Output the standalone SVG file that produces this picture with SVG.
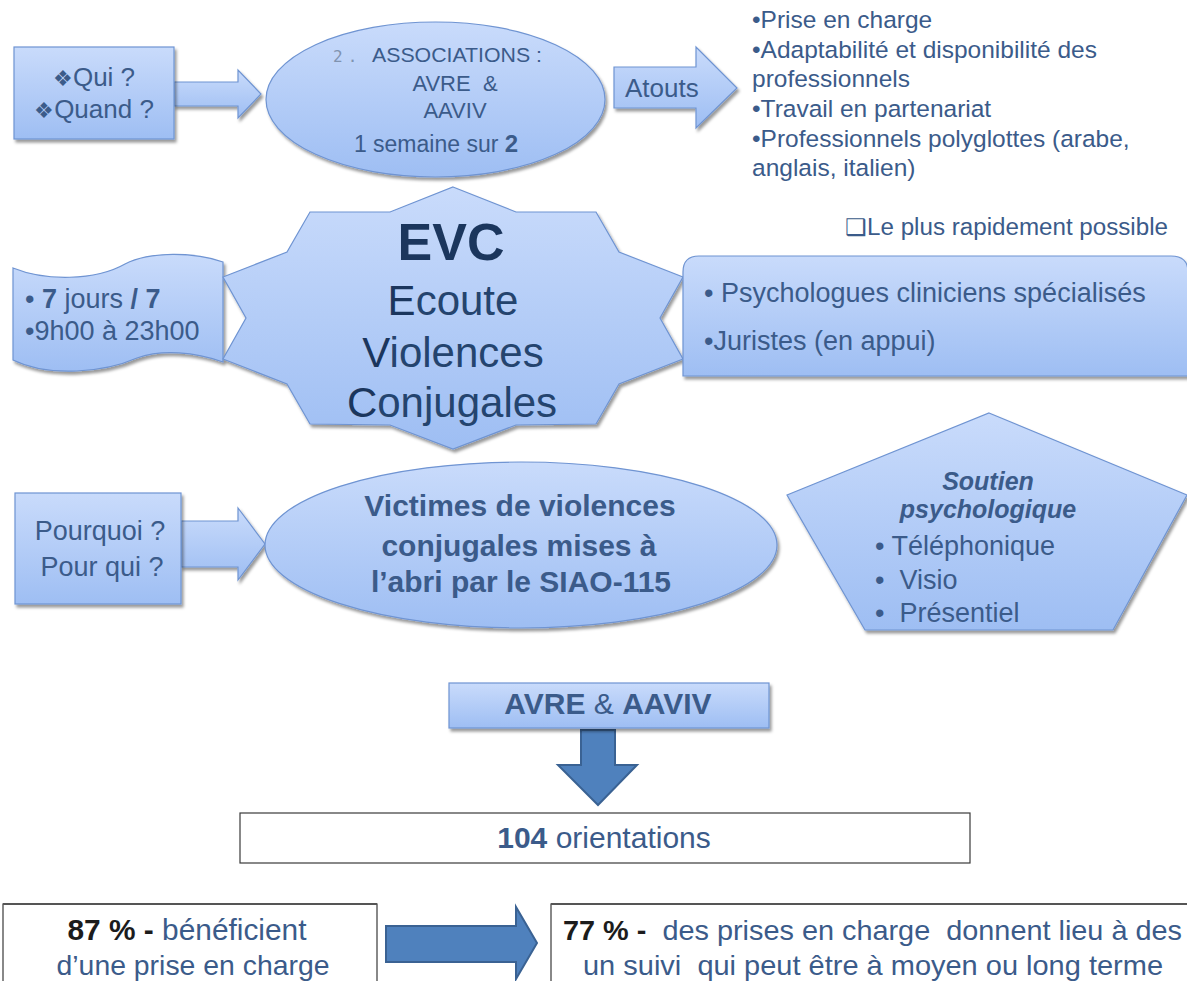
<svg xmlns="http://www.w3.org/2000/svg" width="1187" height="981" viewBox="0 0 1187 981">
<defs>
<linearGradient id="g" x1="0" y1="0" x2="0" y2="1">
<stop offset="0" stop-color="#c9dbfb"/>
<stop offset="1" stop-color="#9ebef3"/>
</linearGradient>
<filter id="sh" x="-10%" y="-10%" width="125%" height="130%">
<feDropShadow dx="2" dy="3" stdDeviation="1.5" flood-color="#000" flood-opacity="0.4"/>
</filter>
<style>
.s{fill:url(#g);stroke:#6f94d2;stroke-width:1.2;filter:url(#sh)}
.d{fill:#4f81bd;stroke:#3a6293;stroke-width:2}
.w{fill:#fff;stroke:#3a3a3a;stroke-width:1.2}
text{font-family:"Liberation Sans",Arial,sans-serif;fill:#3b5b8a}
.c{text-anchor:middle}
.b{font-weight:bold}
text.ev{fill:#24446e}
.ev tspan.n, text.n{fill:#1b365d}
.k{fill:#1c1c1c;font-weight:bold}
text.num{fill:#8093b0;font-family:"DejaVu Sans Mono",monospace;letter-spacing:5px}
</style>
</defs>

<g id="connectors">
<path class="s" d="M174,82 H238 V70 L261,94 L238,118 V106 H174 Z"/>
<path class="s" d="M614,67 H696 V47 L737,88 L696,128 V108 H614 Z"/>
<path class="s" d="M181,521 H238 V508 L265,544 L238,580 V567 H181 Z"/>
<path class="d" d="M581,730 H615 V765 H637 L598,805 L558,765 H581 Z"/>
<path class="d" d="M386,926 H516 V907 L537,943 L516,979 V962 H386 Z"/>
</g>

<g id="qui">
<rect class="s" x="14" y="47" width="160" height="92"/>
<text class="c" x="94" y="86" font-size="26"><tspan font-size="22">❖</tspan>Qui ?</text>
<text class="c" x="94" y="118" font-size="26"><tspan font-size="22">❖</tspan>Quand ?</text>
</g>

<g id="associations">
<ellipse class="s" cx="435.5" cy="99.5" rx="169.5" ry="77.5"/>
<text class="num" x="333" y="62" font-size="16">2.</text>
<text x="372" y="62" font-size="20.5" textLength="170" lengthAdjust="spacingAndGlyphs">ASSOCIATIONS :</text>
<text class="c" x="455" y="91" font-size="22" xml:space="preserve">AVRE  &amp;</text>
<text class="c" x="455" y="118" font-size="22">AAVIV</text>
<text class="c" x="436" y="152" font-size="23">1 semaine sur  <tspan class="b" font-size="24">2</tspan></text>
</g>

<g id="atouts">
<text x="625" y="97" font-size="26">Atouts</text>
</g>

<g id="atouts-list">
<text x="752" y="28" font-size="24.5">•Prise en charge</text>
<text x="752" y="58" font-size="24.5">•Adaptabilité et disponibilité des</text>
<text x="752" y="87" font-size="24.5">professionnels</text>
<text x="752" y="117" font-size="24.5">•Travail en partenariat</text>
<text x="752" y="147" font-size="24.5">•Professionnels polyglottes (arabe,</text>
<text x="752" y="176" font-size="24.5">anglais, italien)</text>
</g>

<g id="rapide">
<text x="845" y="235" font-size="23" textLength="323" lengthAdjust="spacingAndGlyphs">❑Le plus rapidement possible</text>
</g>

<g id="horaires">
<path class="s" d="M13,268 C45,281 95,281 125,264 C150,251 195,252 223,262 L223,362 C195,352 162,349 137,358 C105,372 50,378 13,360 Z"/>
<text x="25" y="308" font-size="27">• <tspan class="b">7</tspan> jours <tspan class="b">/ 7</tspan></text>
<text x="25" y="340" font-size="27">•9h00 à 23h00</text>
</g>

<g id="evc">
<path class="s" d="M453,187 L516,212 L596,212 L619,252 L683,277 L660,318 L683,359 L619,384 L596,424 L516,425 L453,449 L390,425 L310,424 L287,384 L223,359 L246,318 L223,277 L287,252 L310,212 L390,212 Z"/>
<text class="c b n" x="451" y="260" font-size="52">EVC</text>
<text class="c ev" x="453" y="315" font-size="42"><tspan class="n">E</tspan>coute</text>
<text class="c ev" x="453" y="367" font-size="42"><tspan class="n">V</tspan>iolences</text>
<text class="c ev" x="452" y="417" font-size="42"><tspan class="n">C</tspan>onjugales</text>
</g>

<g id="intervenants">
<path class="s" d="M683,376 V272 Q683,256 699,256 H1171 Q1188,256 1188,272 V376 Z"/>
<text x="704" y="302" font-size="27">• Psychologues cliniciens spécialisés</text>
<text x="704" y="350" font-size="27">•Juristes (en appui)</text>
</g>

<g id="pourquoi">
<rect class="s" x="15" y="493" width="166" height="111"/>
<text class="c" x="100" y="540" font-size="27">Pourquoi ?</text>
<text class="c" x="102" y="576" font-size="27">Pour qui ?</text>
</g>

<g id="victimes">
<ellipse class="s" cx="521" cy="545" rx="256" ry="83"/>
<text class="c b" x="520" y="516" font-size="30">Victimes de violences</text>
<text class="c b" x="519" y="556" font-size="30">conjugales mises à</text>
<text class="c b" x="521" y="592" font-size="30">l’abri par le SIAO-115</text>
</g>

<g id="soutien">
<path class="s" d="M989,413 L1187,495 L1113,630 L865,630 L787,495 Z"/>
<text class="c b" x="988" y="490" font-size="25" font-style="italic">Soutien</text>
<text class="c b" x="988" y="518" font-size="25" font-style="italic">psychologique</text>
<text x="875" y="555" font-size="27">• Téléphonique</text>
<text x="875" y="589" font-size="27" xml:space="preserve">•  Visio</text>
<text x="875" y="622" font-size="27" xml:space="preserve">•  Présentiel</text>
</g>

<g id="avre-aaviv">
<rect class="s" x="449" y="683" width="320" height="45"/>
<text class="c" x="608" y="714" font-size="30"><tspan class="b">AVRE</tspan> &amp; <tspan class="b">AAVIV</tspan></text>
</g>

<g id="orientations">
<rect class="w" x="240" y="813" width="730" height="50"/>
<text class="c" x="604" y="848" font-size="30"><tspan class="b">104</tspan> orientations</text>
</g>

<g id="prise-en-charge">
<rect class="w" x="3" y="904" width="374" height="90"/>
<line x1="3" y1="904" x2="377" y2="904" stroke="#555" stroke-width="2"/>
<text class="c" x="187" y="940" font-size="29" textLength="239" lengthAdjust="spacingAndGlyphs"><tspan class="k">87 % -</tspan> bénéficient</text>
<text class="c" x="193" y="975" font-size="28" textLength="273" lengthAdjust="spacingAndGlyphs">d’une prise en charge</text>
</g>

<g id="suivi">
<rect class="w" x="551" y="904" width="645" height="90"/>
<line x1="551" y1="904" x2="1187" y2="904" stroke="#555" stroke-width="2"/>
<text x="563" y="940" font-size="28" textLength="619" lengthAdjust="spacingAndGlyphs" xml:space="preserve"><tspan class="k">77 % -</tspan>  des prises en charge  donnent lieu à des</text>
<text x="583" y="975" font-size="28" textLength="580" lengthAdjust="spacingAndGlyphs" xml:space="preserve">un suivi  qui peut être à moyen ou long terme</text>
</g>
</svg>
